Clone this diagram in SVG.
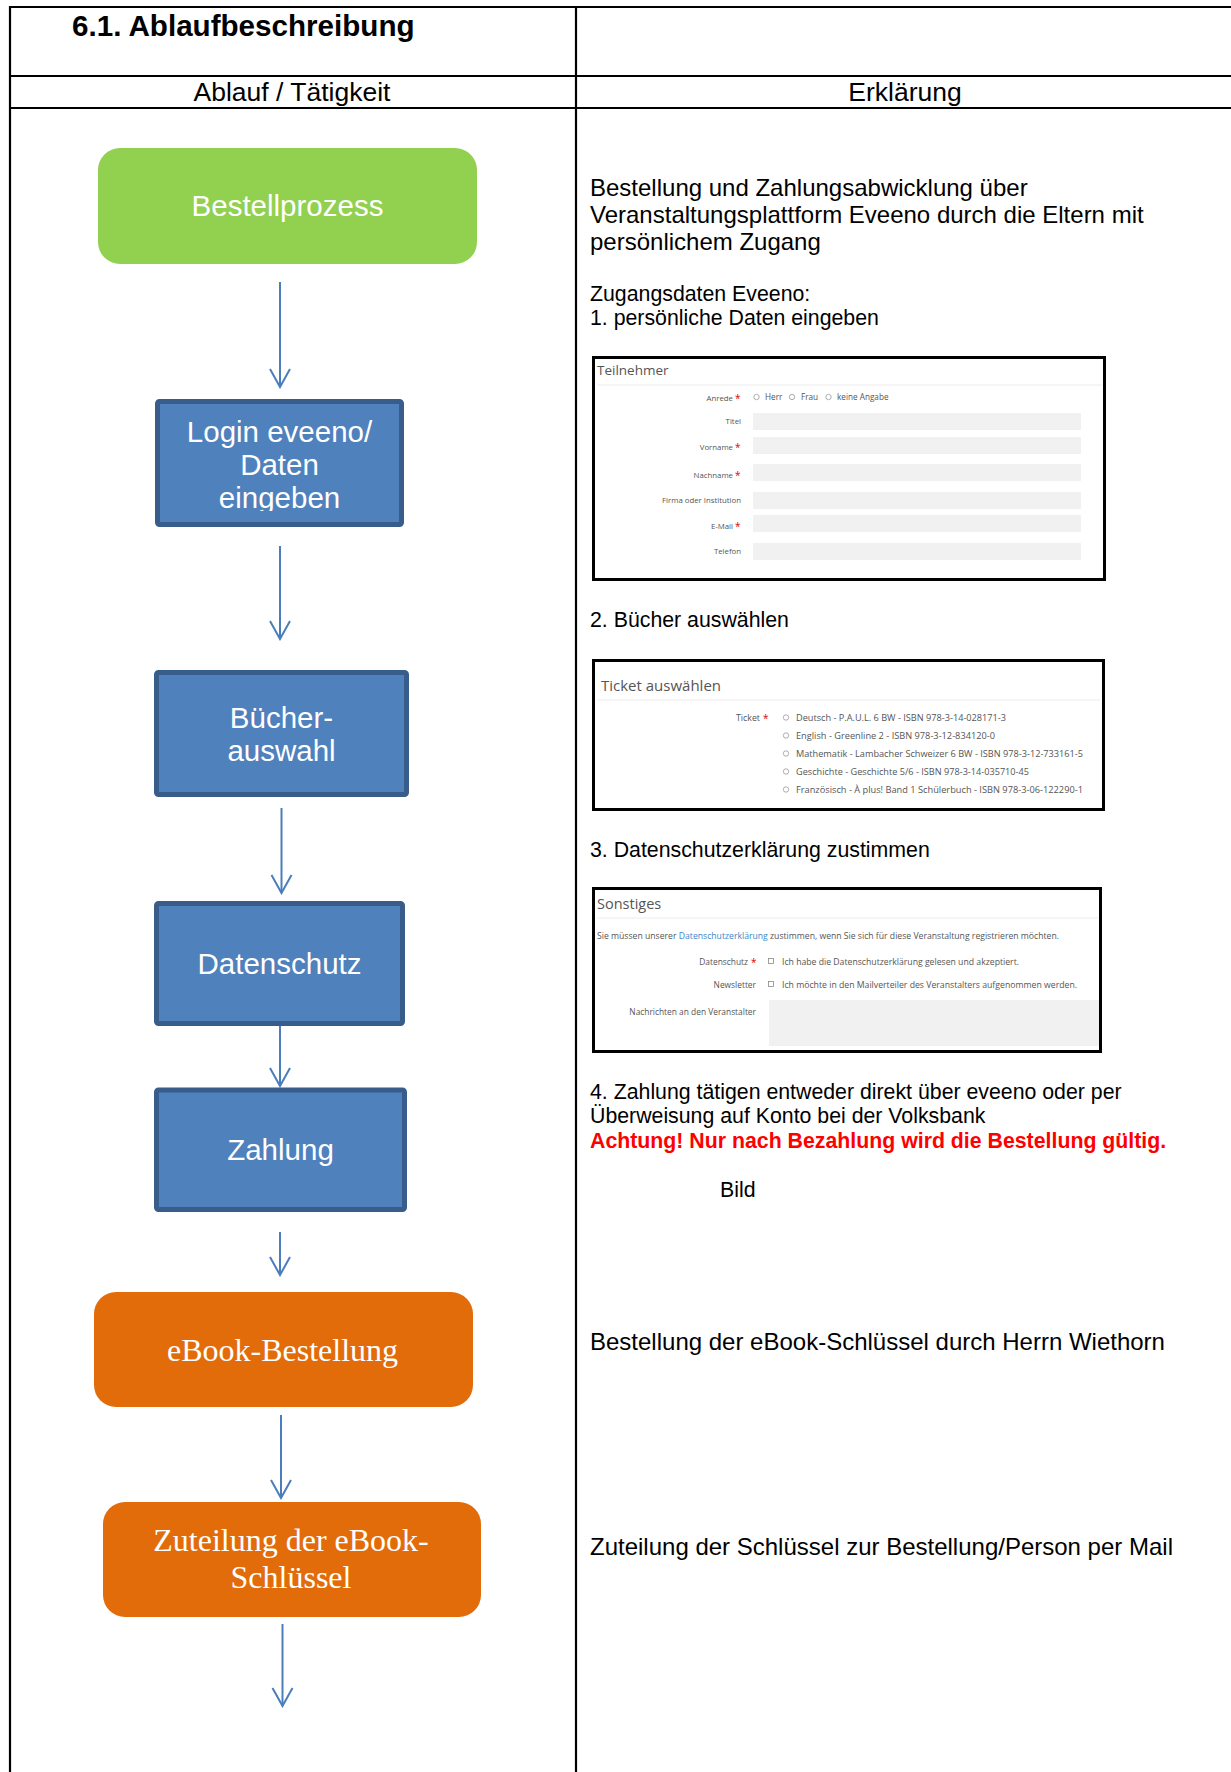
<svg xmlns="http://www.w3.org/2000/svg" width="1231" height="1772" viewBox="0 0 1231 1772">
<defs>
<style>
.tl{stroke:#000;stroke-width:2.2;fill:none}
.body{font-family:"Liberation Sans",Arial,sans-serif;font-size:24px;fill:#000}
.sm{font-family:"Liberation Sans",Arial,sans-serif;font-size:21.3px;fill:#000}
.hdr{font-family:"Liberation Sans",Arial,sans-serif;font-size:26.5px;fill:#000}
.proc{fill:#4F81BD;stroke:#385D8A;stroke-width:5}
.pt{font-family:"Liberation Sans",Arial,sans-serif;font-size:29.5px;fill:#fff;text-anchor:middle}
.st{font-family:"Liberation Serif","Times New Roman",serif;font-size:32px;fill:#fff;text-anchor:middle}
.shot{fill:#fff;stroke:#000;stroke-width:3}
.sep{stroke:#ececec;stroke-width:1}
.lab{font-family:"Open Sans","Noto Sans",sans-serif;font-size:7.8px;fill:#555;text-anchor:end}
.opt{font-family:"Open Sans","Noto Sans",sans-serif;font-size:8.2px;fill:#555}
.tk{font-family:"Open Sans","Noto Sans",sans-serif;font-size:8.8px;fill:#555}
.req{font-family:"Open Sans","Noto Sans",sans-serif;font-size:10px;fill:#e00000}
.inp{fill:#f1f1f1}
.rad{fill:#fff;stroke:#999;stroke-width:0.8}
.conn{stroke:#4A7EBB;stroke-width:2;fill:none;marker-end:url(#ah)}
</style>
<marker id="ah" viewBox="-20 -12 22 24" refX="0" refY="0" markerWidth="22" markerHeight="24" markerUnits="userSpaceOnUse" orient="auto">
<path d="M-18,-10 L0,0 L-18,10" fill="none" stroke="#4A7EBB" stroke-width="2"/>
</marker>
<clipPath id="loginclip"><rect x="155" y="399" width="249" height="112"/></clipPath>
</defs>
<rect x="0" y="0" width="1231" height="1772" fill="#fff"/>

<g id="table">
<line class="tl" x1="9" y1="7" x2="1231" y2="7"/>
<line class="tl" x1="9" y1="76" x2="1231" y2="76"/>
<line class="tl" x1="9" y1="108" x2="1231" y2="108"/>
<line class="tl" x1="10" y1="6" x2="10" y2="1772"/>
<line class="tl" x1="576" y1="6" x2="576" y2="1772"/>
<text x="72" y="36" font-family="Liberation Sans, Arial, sans-serif" font-size="29.6" font-weight="bold">6.1. Ablaufbeschreibung</text>
<text class="hdr" x="292" y="101" text-anchor="middle">Ablauf / Tätigkeit</text>
<text class="hdr" x="905" y="101" text-anchor="middle">Erklärung</text>
</g>

<g id="connectors">
<line class="conn" x1="280" y1="282" x2="280" y2="387"/>
<line class="conn" x1="280" y1="546" x2="280" y2="639"/>
<line class="conn" x1="281.5" y1="808" x2="281.5" y2="893"/>
<line class="conn" x1="280" y1="1026" x2="280" y2="1086"/>
<line class="conn" x1="280" y1="1232" x2="280" y2="1275"/>
<line class="conn" x1="281" y1="1415" x2="281" y2="1498"/>
<line class="conn" x1="282.5" y1="1624" x2="282.5" y2="1706"/>
</g>

<g id="node-bestellprozess">
<rect x="98" y="148" width="379" height="116" rx="22" fill="#92D050"/>
<text class="pt" x="287.5" y="216">Bestellprozess</text>
</g>

<g id="node-login">
<rect class="proc" x="157.5" y="401.5" width="244" height="123" rx="2"/>
<g clip-path="url(#loginclip)">
<text class="pt" x="279.5" y="442">Login eveeno/</text>
<text class="pt" x="279.5" y="475">Daten</text>
<text class="pt" x="279.5" y="508">eingeben</text>
</g>
</g>

<g id="node-buecher">
<rect class="proc" x="156.5" y="672.5" width="250" height="122" rx="2"/>
<text class="pt" x="281.5" y="728">Bücher-</text>
<text class="pt" x="281.5" y="761">auswahl</text>
</g>

<g id="node-datenschutz">
<rect class="proc" x="156.5" y="903.5" width="246" height="120" rx="2"/>
<text class="pt" x="279.5" y="974">Datenschutz</text>
</g>

<g id="node-zahlung">
<rect class="proc" x="156.5" y="1090" width="248" height="119.5" rx="2"/>
<text class="pt" x="280.5" y="1160">Zahlung</text>
</g>

<g id="node-ebook-bestellung">
<rect x="94" y="1292" width="379" height="115" rx="22" fill="#E36C0A"/>
<text class="st" x="282.5" y="1361">eBook-Bestellung</text>
</g>

<g id="node-zuteilung">
<rect x="103" y="1502" width="378" height="115" rx="22" fill="#E36C0A"/>
<text class="st" x="291" y="1551">Zuteilung der eBook-</text>
<text class="st" x="291" y="1588">Schlüssel</text>
</g>

<g id="explanations">
<text class="body" x="590" y="196">Bestellung und Zahlungsabwicklung über</text>
<text class="body" x="590" y="223">Veranstaltungsplattform Eveeno durch die Eltern mit</text>
<text class="body" x="590" y="250">persönlichem Zugang</text>
<text class="sm" x="590" y="301">Zugangsdaten Eveeno:</text>
<text class="sm" x="590" y="325">1. persönliche Daten eingeben</text>
<text class="sm" x="590" y="627">2. Bücher auswählen</text>
<text class="sm" x="590" y="857">3. Datenschutzerklärung zustimmen</text>
<text class="sm" x="590" y="1099">4. Zahlung tätigen entweder direkt über eveeno oder per</text>
<text class="sm" x="590" y="1123">Überweisung auf Konto bei der Volksbank</text>
<text x="590" y="1148" font-family="Liberation Sans, Arial, sans-serif" font-size="21.3" font-weight="bold" fill="#FF0000">Achtung! Nur nach Bezahlung wird die Bestellung gültig.</text>
<text class="sm" x="720" y="1197">Bild</text>
<text class="body" x="590" y="1350">Bestellung der eBook-Schlüssel durch Herrn Wiethorn</text>
<text class="body" x="590" y="1555">Zuteilung der Schlüssel zur Bestellung/Person per Mail</text>
</g>

<g id="screenshot-teilnehmer">
<rect class="shot" x="593.5" y="357.5" width="511" height="222"/>
<text x="597" y="375" font-family="Open Sans, Noto Sans, sans-serif" font-size="13.5" fill="#555">Teilnehmer</text>
<line class="sep" x1="597" y1="385" x2="1102" y2="385"/>
<text class="lab" x="733" y="401">Anrede</text><text class="req" x="735" y="402">*</text>
<circle class="rad" cx="756.5" cy="397" r="2.7"/><text class="opt" x="765" y="400">Herr</text>
<circle class="rad" cx="792" cy="397" r="2.7"/><text class="opt" x="801" y="400">Frau</text>
<circle class="rad" cx="828.5" cy="397" r="2.7"/><text class="opt" x="837" y="400">keine Angabe</text>
<text class="lab" x="741" y="424">Titel</text>
<rect class="inp" x="753" y="413" width="328" height="17"/>
<text class="lab" x="733" y="450">Vorname</text><text class="req" x="735" y="451">*</text>
<rect class="inp" x="753" y="437" width="328" height="17"/>
<text class="lab" x="733" y="478">Nachname</text><text class="req" x="735" y="479">*</text>
<rect class="inp" x="753" y="464" width="328" height="17"/>
<text class="lab" x="741" y="503">Firma oder Institution</text>
<rect class="inp" x="753" y="492" width="328" height="17"/>
<text class="lab" x="733" y="529">E-Mail</text><text class="req" x="735" y="530">*</text>
<rect class="inp" x="753" y="515" width="328" height="17"/>
<text class="lab" x="741" y="554">Telefon</text>
<rect class="inp" x="753" y="543" width="328" height="17"/>
</g>

<g id="screenshot-ticket">
<rect class="shot" x="593.5" y="660.5" width="510" height="149"/>
<text x="601" y="691" font-family="Open Sans, Noto Sans, sans-serif" font-size="15" fill="#555">Ticket auswählen</text>
<line class="sep" x1="597" y1="700" x2="1100" y2="700"/>
<text class="lab" x="760" y="721" style="font-size:8.8px">Ticket</text><text class="req" x="763" y="722">*</text>
<circle class="rad" cx="786" cy="717.5" r="2.7"/>
<circle class="rad" cx="786" cy="735.5" r="2.7"/>
<circle class="rad" cx="786" cy="753.5" r="2.7"/>
<circle class="rad" cx="786" cy="771.5" r="2.7"/>
<circle class="rad" cx="786" cy="789.5" r="2.7"/>
<text class="tk" x="796" y="721" textLength="210" lengthAdjust="spacingAndGlyphs">Deutsch - P.A.U.L. 6 BW - ISBN 978-3-14-028171-3</text>
<text class="tk" x="796" y="739" textLength="199" lengthAdjust="spacingAndGlyphs">English - Greenline 2 - ISBN 978-3-12-834120-0</text>
<text class="tk" x="796" y="757" textLength="287" lengthAdjust="spacingAndGlyphs">Mathematik - Lambacher Schweizer 6 BW - ISBN 978-3-12-733161-5</text>
<text class="tk" x="796" y="775" textLength="233" lengthAdjust="spacingAndGlyphs">Geschichte - Geschichte 5/6 - ISBN 978-3-14-035710-45</text>
<text class="tk" x="796" y="793" textLength="287" lengthAdjust="spacingAndGlyphs">Französisch - À plus! Band 1 Schülerbuch - ISBN 978-3-06-122290-1</text>
</g>

<g id="screenshot-sonstiges">
<rect class="shot" x="593.5" y="888.5" width="507" height="163"/>
<text x="597" y="909" font-family="Open Sans, Noto Sans, sans-serif" font-size="14.5" fill="#555">Sonstiges</text>
<line class="sep" x1="597" y1="918" x2="1098" y2="918"/>
<text class="opt" x="597" y="939" style="font-size:8.4px" textLength="462" lengthAdjust="spacingAndGlyphs">Sie müssen unserer <tspan fill="#3a87c8">Datenschutzerklärung</tspan> zustimmen, wenn Sie sich für diese Veranstaltung registrieren möchten.</text>
<text class="lab" x="748" y="965" style="font-size:8.4px">Datenschutz</text><text class="req" x="751" y="966">*</text>
<rect x="768.5" y="958.5" width="5" height="5" fill="#fff" stroke="#888" stroke-width="0.8"/>
<text class="opt" x="782" y="965" style="font-size:8.4px" textLength="237" lengthAdjust="spacingAndGlyphs">Ich habe die Datenschutzerklärung gelesen und akzeptiert.</text>
<text class="lab" x="756" y="988" style="font-size:8.4px">Newsletter</text>
<rect x="768.5" y="981.5" width="5" height="5" fill="#fff" stroke="#888" stroke-width="0.8"/>
<text class="opt" x="782" y="988" style="font-size:8.4px" textLength="295" lengthAdjust="spacingAndGlyphs">Ich möchte in den Mailverteiler des Veranstalters aufgenommen werden.</text>
<text class="lab" x="756" y="1015" style="font-size:8.4px">Nachrichten an den Veranstalter</text>
<rect class="inp" x="769" y="1000" width="330" height="46"/>
</g>
</svg>
